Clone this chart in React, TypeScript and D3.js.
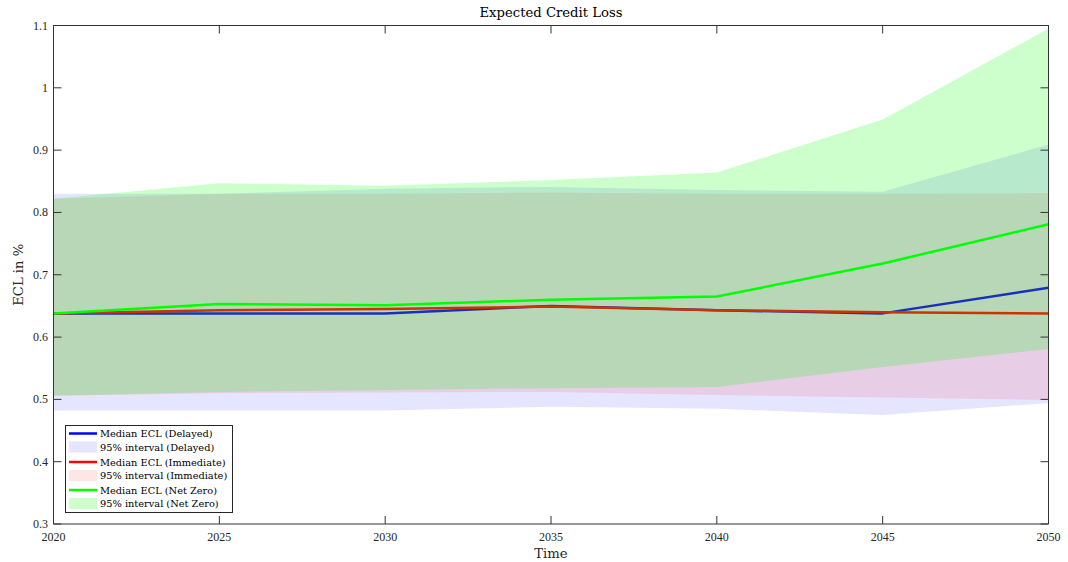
import React from "react";
import * as d3 from "d3";

// Years on the horizontal axis
const years = [2020, 2025, 2030, 2035, 2040, 2045, 2050];

// Delayed transition
const delayedMedian = [0.638, 0.638, 0.638, 0.650, 0.643, 0.638, 0.679];
const delayedLower = [0.482, 0.482, 0.482, 0.488, 0.485, 0.475, 0.494];
const delayedUpper = [0.830, 0.830, 0.838, 0.841, 0.836, 0.833, 0.909];

// Immediate transition
const immediateMedian = [0.638, 0.643, 0.645, 0.649, 0.643, 0.640, 0.638];
const immediateLower = [0.506, 0.510, 0.511, 0.512, 0.507, 0.503, 0.499];
const immediateUpper = [0.822, 0.830, 0.830, 0.832, 0.830, 0.830, 0.831];

// Net Zero
const netZeroMedian = [0.638, 0.653, 0.651, 0.660, 0.665, 0.718, 0.781];
const netZeroLower = [0.506, 0.512, 0.515, 0.518, 0.520, 0.552, 0.581];
const netZeroUpper = [0.822, 0.847, 0.843, 0.852, 0.864, 0.949, 1.095];

const yTicks = [0.3, 0.4, 0.5, 0.6, 0.7, 0.8, 0.9, 1, 1.1];
const xTicks = [2020, 2025, 2030, 2035, 2040, 2045, 2050];

const scenarios = [
  { name: "Delayed", median: delayedMedian, lower: delayedLower, upper: delayedUpper, color: "#0000ff", alpha: 0.1 },
  { name: "Immediate", median: immediateMedian, lower: immediateLower, upper: immediateUpper, color: "#ff0000", alpha: 0.1 },
  { name: "Net Zero", median: netZeroMedian, lower: netZeroLower, upper: netZeroUpper, color: "#00ff00", alpha: 0.2 },
];

const W = 1068;
const H = 562;
const M = { left: 53.5, right: 1048.5, top: 25.5, bottom: 524 };
const TEXT_FONT = "'DejaVu Serif', 'Liberation Serif', serif";
const TICK_FONT = "'Liberation Serif', 'DejaVu Serif', serif";
const AXIS = "#333333";

export default function App() {
  const x = d3.scaleLinear().domain([2020, 2050]).range([M.left, M.right]);
  const y = d3.scaleLinear().domain([0.3, 1.1]).range([M.bottom, M.top]);
  const tick = 8;

  const legendRows = scenarios.flatMap((s) => [
    { kind: "line", label: `Median ECL (${s.name})`, s },
    { kind: "patch", label: `95% interval (${s.name})`, s },
  ]);
  const rowY = [433.5, 447, 462, 475.5, 490, 503.5];

  return (
    <svg width={W} height={H} style={{ display: "block", position: "absolute", left: 0, top: 0 }}>
      <rect x={0} y={0} width={W} height={H} fill="#ffffff" />
      <defs>
        <clipPath id="plot-clip">
          <rect x={M.left} y={M.top} width={M.right - M.left} height={M.bottom - M.top} />
        </clipPath>
      </defs>

      <g clipPath="url(#plot-clip)">
        {scenarios.map((s) => {
          const area = d3
            .area<number>()
            .x((_, i) => x(years[i]))
            .y0((_, i) => y(s.lower[i]))
            .y1((_, i) => y(s.upper[i]));
          const line = d3
            .line<number>()
            .x((_, i) => x(years[i]))
            .y((d) => y(d));
          return (
            <g key={s.name}>
              <path d={area(s.median) ?? ""} fill={s.color} fillOpacity={s.alpha} stroke="none" />
              <path d={line(s.median) ?? ""} fill="none" stroke={s.color} strokeWidth={2.5} strokeLinejoin="round" />
            </g>
          );
        })}
      </g>

      {/* axes box */}
      <g stroke={AXIS} strokeWidth={1} fill="none">
        <line x1={M.left} x2={M.right} y1={M.top} y2={M.top} />
        <line x1={M.left} x2={M.right} y1={M.bottom} y2={M.bottom} />
        <line x1={M.left} x2={M.left} y1={M.top} y2={M.bottom} />
        <line x1={M.right} x2={M.right} y1={M.top} y2={M.bottom} />
        {xTicks.map((t) => (
          <g key={`xt${t}`}>
            <line x1={x(t)} x2={x(t)} y1={M.bottom} y2={M.bottom - tick} />
            <line x1={x(t)} x2={x(t)} y1={M.top} y2={M.top + tick} />
          </g>
        ))}
        {yTicks.map((t) => (
          <g key={`yt${t}`}>
            <line x1={M.left} x2={M.left + tick} y1={y(t)} y2={y(t)} />
            <line x1={M.right} x2={M.right - tick} y1={y(t)} y2={y(t)} />
          </g>
        ))}
      </g>

      {/* tick labels */}
      <g fontFamily={TICK_FONT} fontSize={12} fill="#262626">
        {xTicks.map((t) => (
          <text key={`xl${t}`} x={x(t)} y={M.bottom + 17} textAnchor="middle">
            {t}
          </text>
        ))}
        {yTicks.map((t) => (
          <text key={`yl${t}`} x={M.left - 5.5} y={y(t) + 4} textAnchor="end">
            {d3.format("~g")(t)}
          </text>
        ))}
      </g>

      {/* titles */}
      <text x={(M.left + M.right) / 2} y={17} textAnchor="middle" fontFamily={TEXT_FONT} fontSize={13.2} fill="#000">
        Expected Credit Loss
      </text>
      <text x={(M.left + M.right) / 2} y={558} textAnchor="middle" fontFamily={TEXT_FONT} fontSize={13.2} fill="#262626">
        Time
      </text>
      <text
        transform={`translate(23, ${(M.top + M.bottom) / 2}) rotate(-90)`}
        textAnchor="middle"
        fontFamily={TEXT_FONT}
        fontSize={13.2}
        fill="#262626"
      >
        ECL in %
      </text>

      {/* legend */}
      <g>
        <rect x={65.5} y={425.5} width={167} height={87} fill="#ffffff" stroke="#262626" strokeWidth={1} />
        {legendRows.map((r, i) => (
          <g key={r.label}>
            {r.kind === "line" ? (
              <line x1={69} x2={97} y1={rowY[i]} y2={rowY[i]} stroke={r.s.color} strokeWidth={2.5} />
            ) : (
              <rect x={69} y={rowY[i] - 5.5} width={28} height={11} fill={r.s.color} fillOpacity={r.s.alpha} />
            )}
            <text x={100} y={rowY[i] + 3.5} fontFamily={TEXT_FONT} fontSize={9.8} fill="#000">
              {r.label}
            </text>
          </g>
        ))}
      </g>
    </svg>
  );
}
